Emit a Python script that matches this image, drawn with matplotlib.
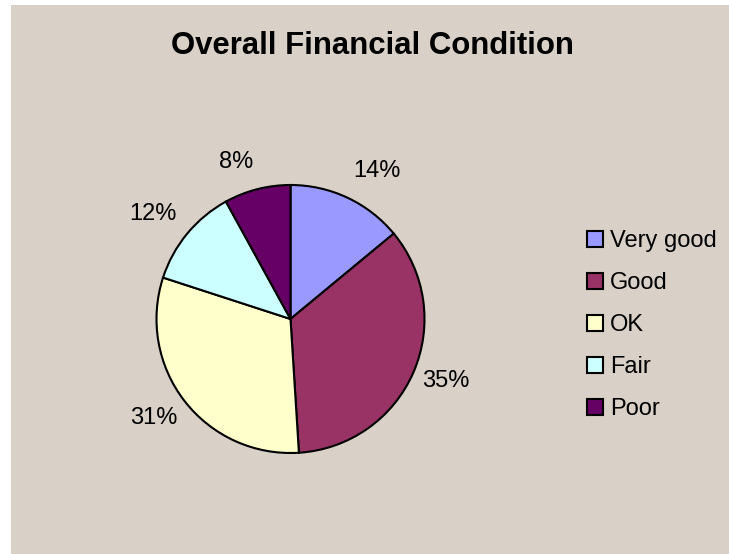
import numpy as np
import matplotlib
matplotlib.use('Agg')
from matplotlib import pyplot as plt
from matplotlib.patches import Rectangle

categories = ['Very good', 'Good', 'OK', 'Fair', 'Poor']
shares = [14, 35, 31, 12, 8]
colors = ['#9999FF', '#993366', '#FFFFCC', '#CCFFFF', '#660066']
title = 'Overall Financial Condition'

plt.rcParams['font.family'] = ['Liberation Sans', 'DejaVu Sans']

W, H = 729, 554
fig = plt.figure(figsize=(W / 100, H / 100), dpi=100, facecolor='white')

# grey chart area, small white margin on the left and top
fig.patches.append(Rectangle((11 / W, 0), 1 - 11 / W, 1 - 5 / H,
                             transform=fig.transFigure, facecolor='#D9D0C7',
                             edgecolor='none', zorder=-5))

# pie centre and radius in pixels
cx, cy, R = 290.5, 554 - 319, 134
ax = fig.add_axes([(cx - R) / W, (cy - R) / H, 2 * R / W, 2 * R / H])
ax.set_zorder(2)
wedges, _ = ax.pie(shares, colors=colors, startangle=90, counterclock=False,
                   wedgeprops=dict(edgecolor='black', linewidth=1.5))
ax.set_xlim(-1, 1)
ax.set_ylim(-1, 1)
ax.axis('off')

# label placement: per-wedge nudges (Excel style outside labels)
nudge_deg = [-5, 1.7, -2, 2.3, 4.6]
dist = [1.28, 1.25, 1.26, 1.29, 1.24]
for w, v, dn, d in zip(wedges, shares, nudge_deg, dist):
    mid = np.deg2rad((w.theta1 + w.theta2) / 2 + dn)
    ax.text(d * np.cos(mid), d * np.sin(mid), '%d%%' % v, ha='center',
            va='center', fontsize=17, clip_on=False)

fig.text(372.5 / W, 1 - 46 / H, title, ha='center', va='center',
         fontsize=22.4, fontweight='bold')

leg = fig.legend(wedges, categories, loc='upper left',
                 bbox_to_anchor=(587 / W, 1 - 230 / H),
                 bbox_transform=fig.transFigure, frameon=False,
                 fontsize=17, borderpad=0, borderaxespad=0,
                 handlelength=0.68, handleheight=0.68, handletextpad=0.3,
                 labelspacing=0.85)
leg.set_zorder(3)

fig.savefig('out.png', dpi=100, facecolor=fig.get_facecolor())
